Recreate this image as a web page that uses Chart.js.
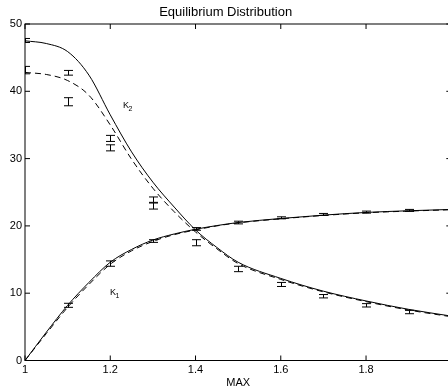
<!DOCTYPE html>
<html><head><meta charset="utf-8">
<script src="https://cdn.jsdelivr.net/npm/chart.js@4.4.0/dist/chart.umd.min.js"></script>
<style>
html,body{margin:0;padding:0;overflow:hidden;background:#fff;width:448px;height:391px}
#wrap{position:relative;width:460px;height:391px}
</style></head>
<body><div id="wrap"><canvas id="c" width="460" height="391"></canvas></div>
<script>
// ---- data ----
const xSamples = [1.00,1.05,1.10,1.15,1.20,1.25,1.30,1.35,1.40,1.45,1.50,1.60,1.70,1.80,1.90,2.00];
const k2Solid  = [47.5,47.1,45.9,42.4,36.5,31.0,26.5,22.8,19.4,16.8,14.6,12.2,10.3,8.85,7.6,6.6];
const k2Dashed = [42.8,42.5,41.6,39.4,35.0,29.9,25.6,22.1,19.1,16.6,14.4,12.05,10.2,8.75,7.5,6.5];
const k1Solid  = [0,4.2,8.2,11.6,14.6,16.5,17.9,18.8,19.5,20.05,20.5,21.1,21.6,22.0,22.25,22.45];
const k1Dashed = [0,4.0,7.9,11.3,14.3,16.3,17.7,18.7,19.4,20.0,20.45,21.05,21.55,21.95,22.2,22.4];

const errX   = [1.0,1.0,1.1,1.1,1.2,1.2,1.3,1.3,1.4,1.5,1.6,1.7,1.8,1.9, 1.1,1.2,1.3,1.4,1.5,1.6,1.7,1.8,1.9];
const errY   = [47.55,43.15,42.75,38.45,33.0,31.6,23.9,22.95,17.5,13.6,11.3,9.55,8.2,7.2, 8.2,14.4,17.75,19.55,20.5,21.2,21.7,22.05,22.3];
const errE   = [0.3,0.55,0.35,0.6,0.45,0.45,0.4,0.45,0.45,0.4,0.3,0.25,0.25,0.25, 0.3,0.4,0.2,0.2,0.2,0.15,0.15,0.15,0.15];

const xTickStep = 0.2;
const yTickStep = 10;
const titleText = 'Equilibrium Distribution';
const xAxisTitle = 'MAX';
const curveLabels = [
  {main:'K', sub:'2', x:1.2299, y:37.55},
  {main:'K', sub:'1', x:1.1994, y:9.69}
];

const FONT = '"Liberation Sans", Arial, Helvetica, sans-serif';
const pts = arr => xSamples.map((x,i)=>({x:x,y:arr[i]}));

const framePlugin = {
  id:'frame',
  afterDatasetsDraw(chart){
    const ctx = chart.ctx, a = chart.chartArea;
    const xs = chart.scales.x, ys = chart.scales.y;
    ctx.save();
    // error bars (clipped)
    ctx.beginPath(); ctx.rect(a.left, a.top, a.right-a.left, a.bottom-a.top); ctx.clip();
    ctx.strokeStyle = '#000'; ctx.lineWidth = 1;
    const hw = 4.5;
    for (let i=0;i<errX.length;i++){
      const px = Math.round(xs.getPixelForValue(errX[i])) + 0.5;
      const yt = ys.getPixelForValue(errY[i]+errE[i]);
      const yb = ys.getPixelForValue(errY[i]-errE[i]);
      ctx.beginPath();
      ctx.moveTo(px, yt); ctx.lineTo(px, yb);
      ctx.moveTo(px-hw, yt); ctx.lineTo(px+hw, yt);
      ctx.moveTo(px-hw, yb); ctx.lineTo(px+hw, yb);
      ctx.stroke();
    }
    ctx.restore();
    ctx.save();
    // box
    ctx.strokeStyle = '#000'; ctx.lineWidth = 1;
    ctx.strokeRect(a.left, a.top, a.right-a.left, a.bottom-a.top);
    // ticks inward
    const tl = 5;
    ctx.beginPath();
    xs.ticks.forEach(t=>{
      const p = xs.getPixelForValue(t.value);
      ctx.moveTo(p, a.bottom); ctx.lineTo(p, a.bottom - tl);
      ctx.moveTo(p, a.top); ctx.lineTo(p, a.top + tl);
    });
    ys.ticks.forEach(t=>{
      const p = ys.getPixelForValue(t.value);
      ctx.moveTo(a.left, p); ctx.lineTo(a.left + tl, p);
      ctx.moveTo(a.right, p); ctx.lineTo(a.right - tl, p);
    });
    ctx.stroke();
    // curve labels
    ctx.fillStyle = '#000';
    ctx.textBaseline = 'alphabetic'; ctx.textAlign = 'left';
    curveLabels.forEach(l=>{
      const px = xs.getPixelForValue(l.x), py = ys.getPixelForValue(l.y);
      ctx.font = '9px ' + FONT;
      ctx.fillText(l.main, px, py);
      const w = ctx.measureText(l.main).width;
      ctx.font = '7px ' + FONT;
      ctx.fillText(l.sub, px + w - 0.5, py + 3);
    });
    ctx.restore();
  }
};

const lineDs = (data, dash) => ({
  data: data, borderColor:'#000', borderWidth:1, pointRadius:0,
  borderDash: dash, cubicInterpolationMode:'monotone', fill:false
});

new Chart(document.getElementById('c'), {
  type:'line',
  data:{ datasets:[
    lineDs(pts(k2Solid), []),
    lineDs(pts(k2Dashed), [6,4]),
    lineDs(pts(k1Solid), []),
    lineDs(pts(k1Dashed), [6,4])
  ]},
  options:{
    responsive:false, animation:false, devicePixelRatio:1,
    layout:{padding:{left:0,right:8.7,top:0,bottom:0}},
    plugins:{
      legend:{display:false}, tooltip:{enabled:false},
      title:{display:true, text:titleText, color:'#000',
        font:{family:FONT,size:13,weight:'normal'}, padding:{top:4.2,bottom:4.2}}
    },
    scales:{
      x:{type:'linear', min:1, max:2,
        grid:{display:false, drawTicks:false}, border:{display:false},
        ticks:{stepSize:xTickStep, color:'#000', padding:3, maxRotation:0, autoSkip:false,
          font:{family:FONT,size:11},
          callback:v=>String(+(+v).toFixed(1))},
        title:{display:true, text:xAxisTitle, color:'#000', font:{family:FONT,size:11}, padding:{top:0,bottom:1}},
        afterFit:s=>{s.height = 30.5;}
      },
      y:{type:'linear', min:0, max:50,
        grid:{display:false, drawTicks:false}, border:{display:false},
        ticks:{stepSize:yTickStep, color:'#000', padding:3, font:{family:FONT,size:11}},
        afterFit:s=>{s.width = 25;}
      }
    }
  },
  plugins:[framePlugin]
});
</script>
</body></html>
